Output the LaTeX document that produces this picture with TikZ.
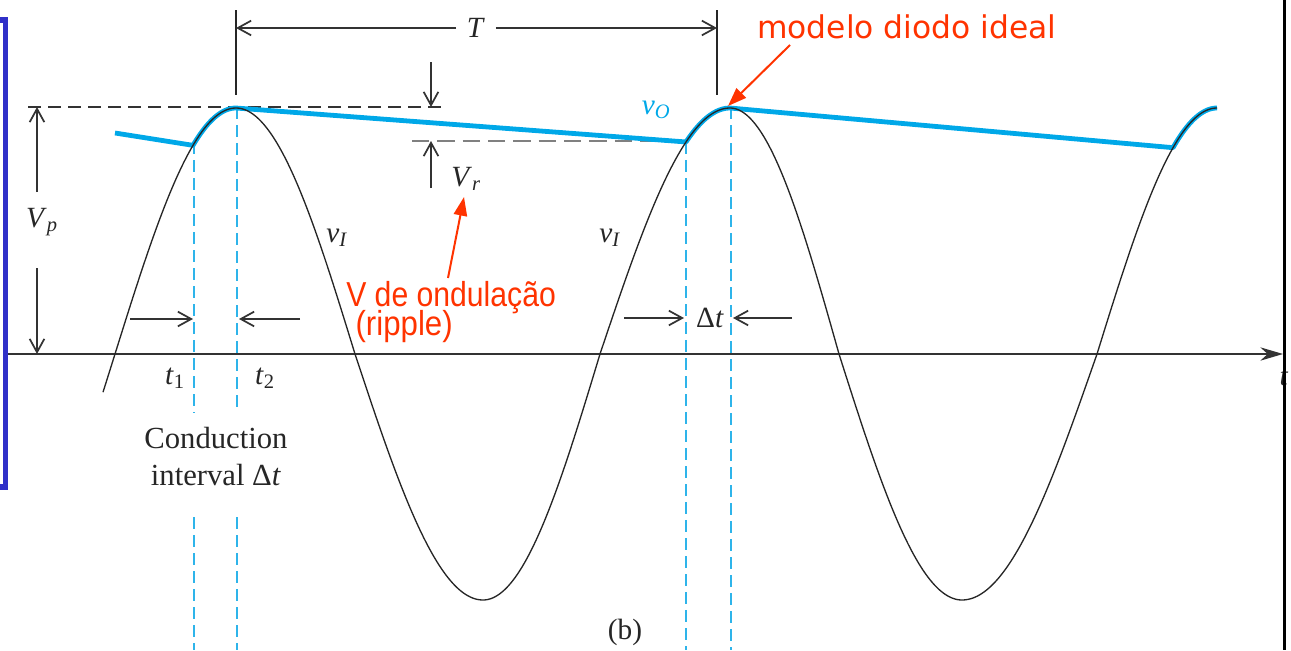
\documentclass[tikz,border=0pt]{standalone}
\usepackage{fontspec}
\setmainfont{Liberation Serif}
\newfontfamily\redsans{Liberation Sans}
\newfontfamily\dvsans{DejaVu Sans}
\usetikzlibrary{arrows.meta}
\definecolor{vblue}{HTML}{00A8E8}
\definecolor{dblue}{HTML}{2EB4EA}
\definecolor{redann}{HTML}{FF3300}
\definecolor{framebl}{HTML}{3030C8}
\definecolor{ink}{HTML}{333333}
\newcommand{\ita}[1]{\textit{#1}}
\newcommand{\tightlines}{\lineskiplimit -100pt\relax}
\begin{document}
\begin{tikzpicture}[x=0.75pt,y=-0.75pt,
  declare function={qs(\x,\a,\b,\p)=354-246*cos(\p+90*(\x-\a)/(\b-\a));},
  wave/.style={line width=1pt, black!85},
  vo/.style={vblue, line width=3.6pt, line join=round},
  cond/.style={dblue, line width=1.1pt, dash pattern=on 9pt off 4.5pt},
  dim/.style={ink, line width=1.3pt, -{Straight Barb[length=10pt,width=11pt,line width=1.3pt]}},
  tick/.style={black!85, line width=0.9pt},
  refdash/.style={ink, line width=1pt, dash pattern=on 10pt off 5pt},
  graydash/.style={black!50, line width=1.6pt, dash pattern=on 13pt off 6pt},
  lbl/.style={font=\fontsize{22}{26}\selectfont, inner sep=0pt, text=black!85},
  serif/.style={font=\fontsize{23}{27.75}\selectfont, inner sep=0pt, text=black!85, align=center},
  redarrow/.style={redann, line width=1.5pt, -{Triangle[length=14pt,width=10pt]}},
  redtxt/.style={text=redann, inner sep=0pt}]
\useasboundingbox (0,0) rectangle (1291,650);
\clip (0,0) rectangle (1291,650);

% coordinates
\coordinate (axL) at (8,354);
\coordinate (axR) at (1283,354);
\coordinate (TLtop) at (236,10);
\coordinate (TLbot) at (236,95);
\coordinate (TRtop) at (717,10);
\coordinate (TRbot) at (717,95);
\coordinate (TA) at (236,28);
\coordinate (TB) at (717,28);
\coordinate (pkL) at (28,107);
\coordinate (pkR) at (443,107);
\coordinate (rpL) at (412,141);
\coordinate (rpR) at (686,141);

% axis
\draw[ink, line width=1.1pt, -{Stealth[length=17pt,width=10pt]}] (axL) -- (axR);

% reference dashed lines
\draw[refdash] (pkL) -- (pkR);
\draw[graydash] (rpL) -- (rpR);

% conduction dashed verticals
\draw[cond] (194,142) -- (194,413);
\draw[cond] (194,517) -- (194,650);
\draw[cond] (237,107) -- (237,413);
\draw[cond] (237,517) -- (237,650);
\draw[cond] (686,142) -- (686,650);
\draw[cond] (731,107) -- (731,650);

% output waveform
\draw[vo] (115,133) -- plot[domain=193:236,samples=30] (\x,{qs(\x,115,236,-90)})
  -- plot[domain=686:730,samples=30] (\x,{qs(\x,600,730,270)})
  -- plot[domain=1173:1217,samples=30] (\x,{qs(\x,1097,1217,630)});

% input sine (quarter by quarter)
\draw[wave] plot[domain=103:236,samples=80] (\x,{qs(\x,115,236,-90)})
  -- plot[domain=236:355,samples=70] (\x,{qs(\x,236,355,0)})
  -- plot[domain=355:483,samples=70] (\x,{qs(\x,355,483,90)})
  -- plot[domain=483:600,samples=70] (\x,{qs(\x,483,600,180)})
  -- plot[domain=600:730,samples=70] (\x,{qs(\x,600,730,270)})
  -- plot[domain=730:839,samples=70] (\x,{qs(\x,730,839,0)})
  -- plot[domain=839:962,samples=70] (\x,{qs(\x,839,962,90)})
  -- plot[domain=962:1097,samples=70] (\x,{qs(\x,962,1097,180)})
  -- plot[domain=1097:1217,samples=70] (\x,{qs(\x,1097,1217,270)});

% T dimension
\draw[tick] (TLtop) -- (TLbot);
\draw[tick] (TRtop) -- (TRbot);
\node[lbl, inner sep=8pt] (Tl) at (476,28) {\ita{T}};
\draw[dim] (Tl.west) -- (TA);
\draw[dim] (Tl.east) -- (TB);

% Vp
\coordinate (vpA) at (37,192);
\coordinate (vpB) at (37,107);
\coordinate (vpC) at (37,268);
\coordinate (vpD) at (37,354);
\draw[dim] (vpA) -- (vpB);
\draw[dim] (vpC) -- (vpD);
\node[lbl] (Vp) at (42,222) {\ita{V}\textsubscript{\ita{p}}};

% Vr
\coordinate (vrA) at (431,62);
\coordinate (vrB) at (431,107);
\coordinate (vrC) at (431,188);
\coordinate (vrD) at (431,141);
\draw[dim] (vrA) -- (vrB);
\draw[dim] (vrC) -- (vrD);
\node[lbl] (Vr) at (466,179) {\ita{V}\textsubscript{\ita{r}}};

% t1 t2 arrows
\coordinate (t1A) at (130,319);
\coordinate (t1B) at (193,319);
\coordinate (t2A) at (300,319);
\coordinate (t2B) at (239,319);
\draw[dim] (t1A) -- (t1B);
\draw[dim] (t2A) -- (t2B);
\node[lbl] (t1) at (175,378) {\ita{t}\textsubscript{1}};
\node[lbl] (t2) at (265,378) {\ita{t}\textsubscript{2}};

% Delta t arrows
\coordinate (dtA) at (624,318);
\coordinate (dtB) at (684,318);
\coordinate (dtC) at (792,318);
\coordinate (dtD) at (733,318);
\draw[dim] (dtA) -- (dtB);
\draw[dim] (dtC) -- (dtD);
\node[lbl] (dt) at (710,318) {Δ\ita{t}};

% labels
\node[lbl] (vI1) at (337,238) {\ita{v}\textsubscript{\ita{I}}};
\node[lbl] (vI2) at (610,238) {\ita{v}\textsubscript{\ita{I}}};
\node[lbl, text=vblue] (vO) at (656,110) {\ita{v}\textsubscript{\ita{O}}};
\node[serif] (cond) at (216,457) {Conduction\\interval Δ\ita{t}};
\node[serif, font=\fontsize{22}{26}\selectfont] (b) at (625,632) {(b)};
\node[lbl] (tlab) at (1284,377) {\ita{t}};

% red annotations
\node[redtxt, anchor=base west, font=\dvsans\fontsize{23.5}{26}\selectfont] (ideal) at (757,38) {modelo diodo ideal};
\node[redtxt, anchor=north west, align=left,
      font=\redsans\fontsize{26}{22}\selectfont\tightlines] (ond) at (346,281)
      {\scalebox{0.87}[1]{V de ondulação}\\\hspace*{7pt}\scalebox{0.9}[1]{(ripple)}};
\coordinate (idealTip) at (728,106);
\coordinate (idealStart) at (790,45);
\draw[redarrow] (idealStart) -- (idealTip);
\coordinate (ondStart) at (448,278);
\coordinate (ondTip) at (464,197);
\draw[redarrow] (ondStart) -- (ondTip);

% frame pieces
\draw[framebl, line width=3.8pt] (0,20) -- (5.5,20) -- (5.5,487) -- (0,487);
\draw[black, line width=2.6pt] (1284.5,0) -- (1284.5,650);
\end{tikzpicture}
\end{document}
